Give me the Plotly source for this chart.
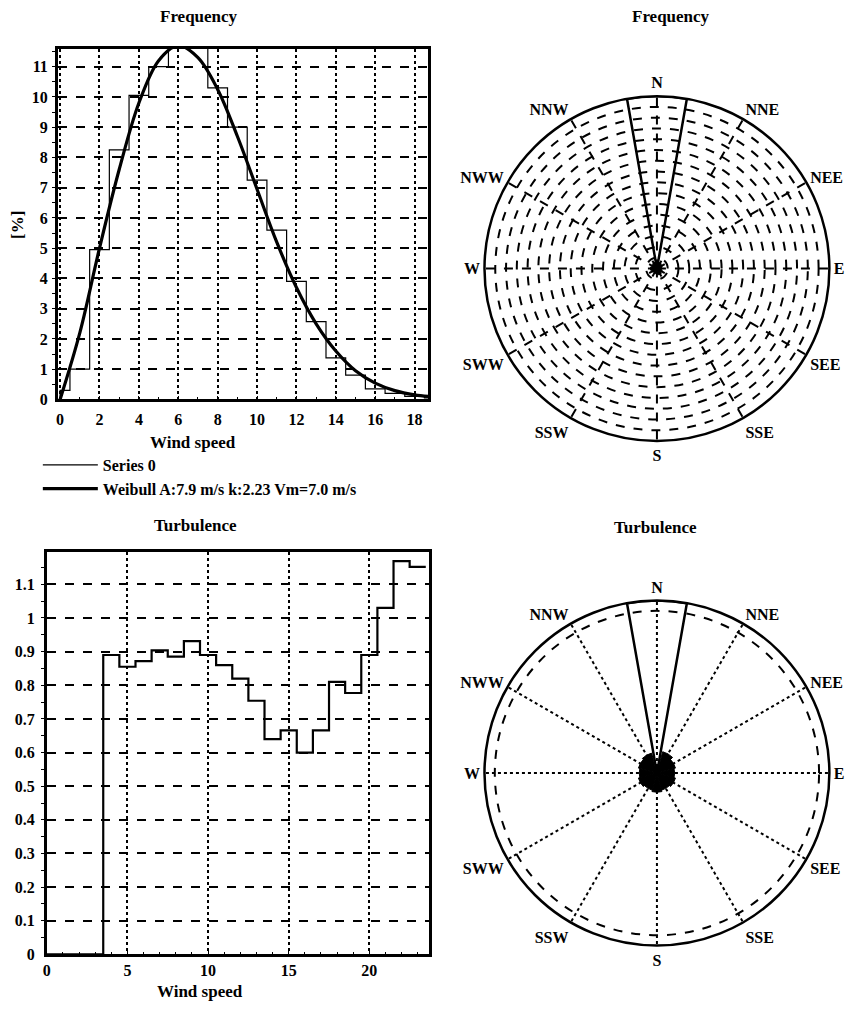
import plotly.graph_objects as go

W, H = 856, 1011

# ---------------- data ----------------
freq_bins = list(range(0, 20))
freq_pct = [0.3, 1.0, 4.95, 8.25, 10.05, 11.0, 11.7, 11.7, 10.3, 9.0,
            7.25, 5.6, 3.9, 2.57, 1.37, 0.8, 0.35, 0.2, 0.1, 0.05]

weib_speed = [0, 1, 2, 3, 4, 5, 6, 7, 8, 9, 10, 11, 12, 13, 14, 15, 16, 17, 18, 18.7]
weib_pct = [0, 2.2, 5.0, 7.6, 9.8, 11.2, 11.7, 11.3, 10.25, 8.7,
            6.95, 5.2, 3.7, 2.5, 1.6, 0.95, 0.54, 0.29, 0.15, 0.1]

turb_bins = [4, 5, 6, 7, 8, 9, 10, 11, 12, 13, 14, 15, 16, 17, 18, 19, 20, 21, 22, 23]
turb_vals = [0.89, 0.855, 0.872, 0.904, 0.885, 0.931, 0.89, 0.86, 0.82, 0.754,
             0.64, 0.666, 0.60, 0.666, 0.81, 0.777, 0.89, 1.03, 1.169, 1.152]

directions = ['N', 'NNE', 'NEE', 'E', 'SEE', 'SSE', 'S', 'SSW', 'SWW', 'W', 'NWW', 'NNW']
dir_angles = [0, 30, 60, 90, 120, 150, 180, 210, 240, 270, 300, 330]
rose_freq = [16.0, 0.6, 0.5, 0.4, 0.5, 0.6, 0.5, 0.4, 0.5, 0.6, 0.5, 0.6]
rose_turb = [1.17, 0.15, 0.13, 0.12, 0.13, 0.12, 0.13, 0.12, 0.13, 0.12, 0.13, 0.14]

SERIES_NAMES = ['Series 0', 'Weibull A:7.9 m/s k:2.23 Vm=7.0 m/s']

# ---------------- helpers ----------------
def px_x(p):
    return p / W

def px_y(p):
    return 1 - p / H

FONT = 'Liberation Serif'
tick_font = dict(family=FONT, size=16, color='black', weight='bold')
lab_font = dict(family=FONT, size=17, color='black', weight='bold')

fig = go.Figure()

# histogram (thin stepped line)
fig.add_trace(go.Scatter(
    x=[0] + freq_bins, y=[0] + freq_pct, mode='lines',
    line=dict(color='black', width=1.2, shape='hvh'),
    name=SERIES_NAMES[0], xaxis='x', yaxis='y'))

# Weibull fit (thick)
fig.add_trace(go.Scatter(
    x=weib_speed, y=weib_pct, mode='lines',
    line=dict(color='black', width=3.2, shape='spline'),
    name=SERIES_NAMES[1], xaxis='x', yaxis='y'))

# turbulence stepped line
tx = [0] + [c - 0.5 for c in turb_bins] + [turb_bins[-1] + 0.5]
ty = [0] + turb_vals + [turb_vals[-1]]
fig.add_trace(go.Scatter(
    x=tx, y=ty, mode='lines', line=dict(color='black', width=2.2, shape='hv'),
    showlegend=False, xaxis='x2', yaxis='y2'))

# frequency rose
fig.add_trace(go.Barpolar(
    r=rose_freq[:1], theta=dir_angles[:1], width=[20],
    marker=dict(color='rgba(0,0,0,0)', line=dict(color='black', width=2.5)),
    showlegend=False, subplot='polar'))
fig.add_trace(go.Barpolar(
    r=rose_freq[1:], theta=dir_angles[1:], width=[30] * 11,
    marker=dict(color='black', line=dict(color='black', width=1)),
    showlegend=False, subplot='polar'))

# turbulence rose
fig.add_trace(go.Barpolar(
    r=rose_turb[:1], theta=dir_angles[:1], width=[20],
    marker=dict(color='rgba(0,0,0,0)', line=dict(color='black', width=2.5)),
    showlegend=False, subplot='polar2'))
fig.add_trace(go.Barpolar(
    r=rose_turb[1:], theta=dir_angles[1:], width=[30] * 11,
    marker=dict(color='black', line=dict(color='black', width=1)),
    showlegend=False, subplot='polar2'))

axis_common = dict(showgrid=True, gridcolor='black', gridwidth=1.6,
                   showline=True, mirror=True, linecolor='black', linewidth=2.5,
                   zeroline=False, ticks='inside', ticklen=4, tickcolor='black',
                   tickfont=tick_font)

def polar_layout(cx, cy, r, rng, radial_extra, spoke_dash, ring_dash):
    return dict(
        domain=dict(x=[px_x(cx - r), px_x(cx + r)], y=[px_y(cy + r), px_y(cy - r)]),
        bgcolor='white',
        radialaxis=dict(range=rng, showticklabels=False, ticks='', showline=False,
                        gridcolor='black', gridwidth=1.5, griddash=ring_dash, **radial_extra),
        angularaxis=dict(rotation=90, direction='clockwise', tickmode='array',
                         tickvals=dir_angles, ticktext=directions, ticks='',
                         showline=True, linecolor='black', linewidth=2.5,
                         gridcolor='black', gridwidth=1.5, griddash=spoke_dash,
                         tickfont=dict(family=FONT, size=16, color='black', weight='bold')),
    )

fig.update_layout(
    width=W, height=H, margin=dict(l=0, r=0, t=0, b=0),
    paper_bgcolor='white', plot_bgcolor='white',
    xaxis=dict(domain=[px_x(54), px_x(426)], range=[-0.12, 18.68], dtick=2, tick0=0,
               anchor='y', griddash='dot', ticklabelstandoff=4,
               minor=dict(dtick=1, ticks='inside', ticklen=3, tickcolor='black', showgrid=False),
               **axis_common),
    yaxis=dict(domain=[px_y(403), px_y(49)], range=[0, 11.6], dtick=1, tick0=0,
               anchor='x', griddash='dash', ticklabelstandoff=4,
               minor=dict(dtick=0.5, ticks='outside', ticklen=3, tickcolor='black', showgrid=False),
               **axis_common),
    xaxis2=dict(domain=[px_x(43), px_x(427)], range=[0, 23.7], dtick=5, tick0=0,
                anchor='y2', griddash='dot',
                minor=dict(dtick=1, ticks='inside', ticklen=3, tickcolor='black', showgrid=False),
                **axis_common),
    yaxis2=dict(domain=[px_y(963), px_y(557)], range=[0, 1.196], dtick=0.1, tick0=0,
                anchor='x2', griddash='dash', ticklabelstandoff=6,
                minor=dict(dtick=0.05, ticks='outside', ticklen=3, tickcolor='black', showgrid=False),
                **axis_common),
    polar=polar_layout(656, 271, 174, [0, 16], dict(dtick=1, tick0=0), 'dash', 'dash'),
    polar2=polar_layout(656, 780, 174, [0, 1.17], dict(tickmode='array', tickvals=[1.1]), 'dot', 'dash'),
    legend=dict(x=px_x(34), y=px_y(452), xanchor='left', yanchor='top',
                bgcolor='rgba(0,0,0,0)', font=dict(family=FONT, size=16, color='black', weight='bold'),
                tracegroupgap=0, itemwidth=55),
    showlegend=True,
)

annots = [
    ('Frequency', 196, 17, 0),
    ('Frequency', 670, 17, 0),
    ('Turbulence', 192, 530, 0),
    ('Turbulence', 655, 532, 0),
    ('Wind speed', 190, 446, 0),
    ('Wind speed', 197, 1000, 0),
    ('[%]', 14, 227, -90),
]
for text, ax_, ay_, rot in annots:
    fig.add_annotation(text=text, x=px_x(ax_), y=px_y(ay_), xref='paper', yref='paper',
                       showarrow=False, textangle=rot, font=lab_font,
                       xanchor='center', yanchor='middle')

fig.write_html('out.html')
